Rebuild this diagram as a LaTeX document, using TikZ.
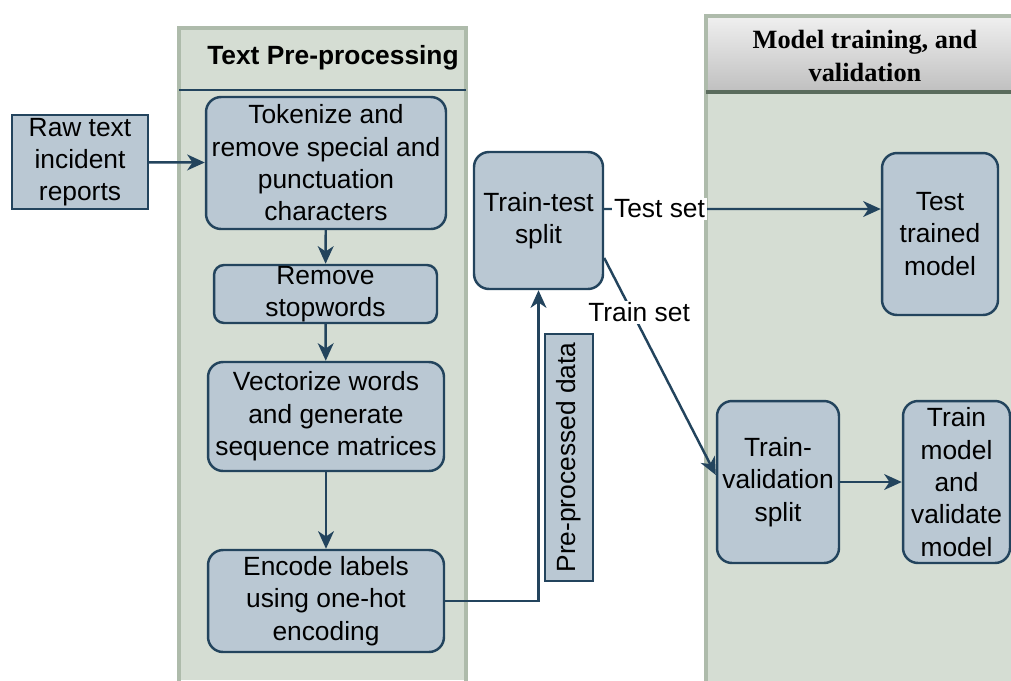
\documentclass[tikz,border=0pt]{standalone}
\usepackage{fontspec}
\setmainfont{Liberation Sans}
\newfontfamily\timesfont{Liberation Serif}
\usetikzlibrary{arrows.meta}

\definecolor{boxfill}{HTML}{BAC8D3}
\definecolor{boxline}{HTML}{23445D}
\definecolor{lanefill}{HTML}{D5DDD3}
\definecolor{laneline}{HTML}{AEBBAB}
\definecolor{headline}{HTML}{5A6B5C}

\begin{document}
\begin{tikzpicture}[>={Stealth[length=10pt,width=9pt,inset=3pt]},x=0.02cm,y=-0.02cm,
  blk/.style={rectangle,draw=boxline,fill=boxfill,line width=1.4pt,align=center,inner sep=0pt,font=\fontsize{15}{18.4}\selectfont},
  rblk/.style={blk,rounded corners=0.3cm},
  arr/.style={->,draw=boxline,line width=1.4pt},
  lab/.style={fill=white,inner sep=1pt,font=\fontsize{15}{18.4}\selectfont}]
\useasboundingbox (0,0) rectangle (1011,680);

% lanes
\fill[lanefill] (179,28) rectangle (466,680);
\draw[laneline,line width=2pt] (179,682) -- (179,28) -- (466,28) -- (466,682);
\draw[boxline,line width=1.4pt] (179,90) -- (466,90);
\node (ttl1) at (333,58)[font=\bfseries\fontsize{15}{18}\selectfont]{Text Pre-processing};

\fill[lanefill] (706,92) rectangle (1015,682);
\shade[top color=gray!12,bottom color=gray!50] (706,16) rectangle (1015,92);
\draw[laneline,line width=2pt] (706,682) -- (706,16) -- (1015,16);
\draw[headline,line width=2pt] (706,92) -- (1015,92);
\node (ttl2) at (865,56)[align=center,font=\timesfont\bfseries\fontsize{15}{18.4}\selectfont]{Model training, and\\validation};

% pre-processing steps
\node (raw) at (80,162)[blk,minimum width=2.72cm,minimum height=1.88cm]{Raw text\\incident\\reports};
\node (tok) at (326,163)[rblk,minimum width=4.8cm,minimum height=2.64cm]{Tokenize and\\remove special and\\punctuation\\characters};
\node (stop) at (325.5,294)[blk,rounded corners=0.2cm,minimum width=4.46cm,minimum height=1.16cm]{Remove\\stopwords};
\node (vec) at (326,416.5)[rblk,minimum width=4.72cm,minimum height=2.18cm]{Vectorize words\\and generate\\sequence matrices};
\node (enc) at (326,601)[rblk,minimum width=4.72cm,minimum height=2.04cm]{Encode labels\\using one-hot\\encoding};

% splitting and training
\node (tts) at (538.5,220.5)[rblk,minimum width=2.58cm,minimum height=2.74cm]{Train-test\\split};
\node (pre) at (569,457.5)[blk,rotate=90,minimum width=4.94cm,minimum height=0.96cm]{Pre-processed data};
\node (ttm) at (940,234)[rblk,minimum width=2.32cm,minimum height=3.24cm]{Test\\trained\\model};
\node (tvs) at (778,482)[rblk,minimum width=2.44cm,minimum height=3.24cm]{Train-\\validation\\split};
\node (tmv) at (956.5,482)[rblk,minimum width=2.14cm,minimum height=3.24cm]{Train\\model\\and\\validate\\model};

\draw[arr] (raw) -- (tok);
\draw[arr] (tok) -- (stop);
\draw[arr] (stop) -- (vec);
\draw[arr] (vec) -- (enc);
\draw[arr] (enc.east) -| (tts.south);
\draw[arr] ([yshift=0.23cm]tts.east) -- node[lab,pos=0.2]{Test set} ([yshift=0.5cm]ttm.west);
\draw[arr] ([yshift=-0.75cm]tts.east) -- node[lab,pos=0.25,xshift=0.14cm]{Train set} ([yshift=0.14cm]tvs.west);
\draw[arr] (tvs) -- (tmv);
\end{tikzpicture}
\end{document}
